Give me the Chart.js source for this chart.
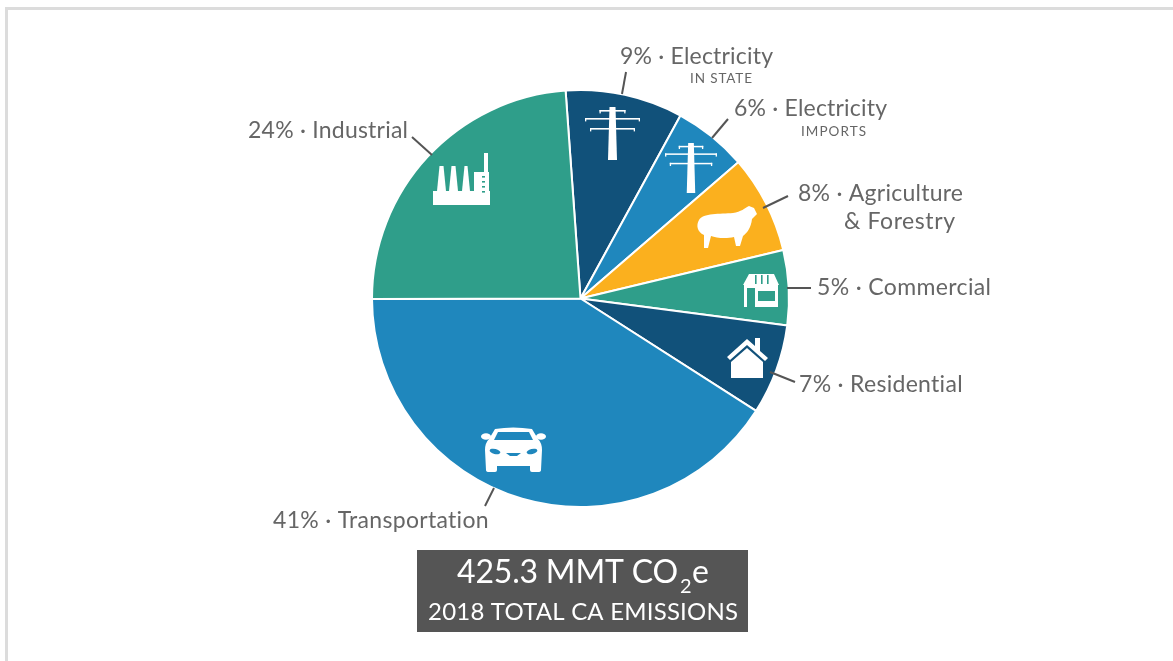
<!DOCTYPE html>
<html><head><meta charset="utf-8">
<script src="https://cdn.jsdelivr.net/npm/chart.js@4"></script>
<style>
html,body{margin:0;padding:0;background:#fff;width:1173px;height:661px;overflow:hidden}
#c{position:absolute;left:0;top:0}
#frame{position:absolute;left:5px;top:7px;width:1168px;height:654px;border-top:3px solid #dcdcdc;border-left:3px solid #dcdcdc;box-sizing:border-box}
</style></head><body>
<div id="frame"></div>
<canvas id="c" width="1173" height="661"></canvas>
<script>
const categories=["Electricity in state","Electricity imports","Agriculture & Forestry","Commercial","Residential","Transportation","Industrial"];
const shares=[9.1,5.7,7.6,5.8,7.0,40.9,23.9];
const sliceColors=["#11517a","#1f87bd","#fbb01e","#2f9e8a","#11517a","#1f87bd","#2f9e8a"];
const calloutLabels=[
 {t:"9% · Electricity",x:620,y:64,w:153},
 {t:"6% · Electricity",x:734,y:116,w:153},
 {t:"8% · Agriculture",x:798,y:201,w:165},
 {t:"& Forestry",x:844,y:229,w:111},
 {t:"5% · Commercial",x:817,y:295,w:174},
 {t:"7% · Residential",x:799,y:392,w:164},
 {t:"41% · Transportation",x:273,y:528,w:216},
 {t:"24% · Industrial",x:248,y:138,w:160}];
const subLabels=[{t:"IN STATE",x:690,y:83,w:62},{t:"IMPORTS",x:801,y:136,w:65}];
const leaders=[[626,72,622,94],[728,119,712,138],[788,196,763,208],[787,288,811,288],[770,372,795,382],[494,488,485,506],[412,137,432,155]];
const totalLine="425.3 MMT CO";
const totalSub="2";
const totalEnd="e";
const captionLine="2018 TOTAL CA EMISSIONS";
const FONT='Lato, "Open Sans", sans-serif';

function poly(c,p){c.beginPath();p.forEach((q,i)=>i?c.lineTo(q[0],q[1]):c.moveTo(q[0],q[1]));c.closePath();c.fill();}
function fitText(c,t,x,y,w){
  c.letterSpacing="0px";
  const m=c.measureText(t).width;
  c.letterSpacing=((w-m)/(t.length-1)).toFixed(3)+"px";
  c.fillText(t,x,y);
  c.letterSpacing="0px";
}
function pylon(c,x,top,h){
  const s=h/53;
  c.fillStyle="#fff";
  poly(c,[[x-3*s,top],[x+3*s,top],[x+4.5*s,top+h],[x-4.5*s,top+h]]);
  const arm=(dy,hw)=>{c.fillRect(x-hw*s,top+dy*s,2*hw*s,1.6*s);
    c.fillRect(x-hw*s,top+dy*s,1.3,3.4*s);c.fillRect(x+hw*s-1.3,top+dy*s,1.3,3.4*s);};
  arm(3,13);arm(11,27.5);arm(21,22.5);
}
function sheep(c){
  c.fillStyle="#fff";c.beginPath();
  c.moveTo(699,220);c.bezierCurveTo(703,213,720,214,733,213);
  c.bezierCurveTo(741,212,745,208,749,206);c.lineTo(754,208);c.lineTo(757,214);
  c.lineTo(752,219);c.bezierCurveTo(751,228,747,233,743,236);
  c.lineTo(740,246);c.lineTo(736,246);c.lineTo(734,237);
  c.bezierCurveTo(726,239,716,238,711,236);c.lineTo(708,248);c.lineTo(704,248);
  c.lineTo(704,235);c.bezierCurveTo(697,232,696,225,699,220);c.fill();
}
function car(c){
  const b="#1f87bd";c.fillStyle="#fff";
  c.beginPath();c.moveTo(495,429);c.quadraticCurveTo(513,426,532,429);c.lineTo(538,439);
  c.quadraticCurveTo(542,443,542,450);c.lineTo(541,470);c.quadraticCurveTo(541,472,538,472);c.lineTo(532,472);c.quadraticCurveTo(530,472,530,470);c.lineTo(530,466);c.lineTo(497,466);c.lineTo(497,470);c.quadraticCurveTo(497,472,495,472);c.lineTo(489,472);c.quadraticCurveTo(486,472,486,470);c.lineTo(485,450);c.quadraticCurveTo(485,443,489,439);c.closePath();c.fill();
  c.beginPath();c.ellipse(486,436.5,5,3.2,0,0,7);c.ellipse(541,436.5,5,3.2,0,0,7);c.fill();
  c.fillStyle=b;
  poly(c,[[498,432],[529,432],[533,440],[494,440]]);
  c.beginPath();c.ellipse(495,451.5,5.5,2.6,0.25,0,7);c.ellipse(532,451.5,5.5,2.6,-0.25,0,7);c.fill();
  poly(c,[[506,453],[521,453],[517,456],[510,456]]);
}
function factory(c){
  c.fillStyle="#fff";
  c.fillRect(433,191,57,14);
  [[438,445],[450,457],[463,469]].forEach(a=>{poly(c,[[a[0]+1.5,166],[a[1]-1.5,166],[a[1]+1,191],[a[0]-1,191]]);});
  c.fillRect(474,172,15,33);
  c.fillRect(484,153,4,20);
  c.fillStyle="#2f9e8a";
  [176,181,186,191].forEach(y=>c.fillRect(482,y,3,1.6));
}
function store(c){
  c.fillStyle="#fff";
  c.beginPath();c.moveTo(749,274);c.lineTo(774,274);c.lineTo(779,285);c.lineTo(743,285);c.closePath();c.fill();
  c.fillRect(744,285,3,22);
  c.fillRect(755,288,23,19);
  c.fillRect(744,285,34,3);
  c.fillStyle="#2f9e8a";
  [755,761,767].forEach(x=>c.fillRect(x,275,1.6,9));
  c.fillRect(758,291,17,10);
}
function house(c){
  c.fillStyle="#fff";
  poly(c,[[727,357],[747,339],[755,346],[755,338],[760,338],[760,351],[768,358],[765,361],[747,345],[730,360]]);
  poly(c,[[731,362],[747,348],[763,362],[763,378],[731,378]]);
}

const overlay={id:"overlay",afterDatasetsDraw(ch){
  const c=ch.ctx;c.save();
  pylon(c,612.5,107,53);pylon(c,691,143,50);
  sheep(c);car(c);factory(c);store(c);house(c);
  c.strokeStyle="#555";c.lineWidth=2;c.lineCap="butt";
  leaders.forEach(l=>{c.beginPath();c.moveTo(l[0],l[1]);c.lineTo(l[2],l[3]);c.stroke();});
  c.textBaseline="alphabetic";c.textAlign="left";c.fillStyle="#666";
  c.font="23px "+FONT;
  calloutLabels.forEach(l=>fitText(c,l.t,l.x,l.y,l.w));
  c.font="13.5px "+FONT;
  subLabels.forEach(l=>fitText(c,l.t,l.x,l.y,l.w));
  c.fillStyle="#555";c.fillRect(417,550,331,82);
  c.fillStyle="#fff";c.font="32px "+FONT;
  fitText(c,totalLine,457,583,221);
  c.font="20px "+FONT;c.fillText(totalSub,680,593);
  c.font="32px "+FONT;c.fillText(totalEnd,692,583);
  c.font="24px "+FONT;fitText(c,captionLine,428,620,310);
  c.restore();
}};
new Chart(document.getElementById("c"),{
  type:"pie",
  data:{labels:categories,datasets:[{data:shares,backgroundColor:sliceColors,borderColor:"#fff",borderWidth:2}]},
  options:{responsive:false,animation:false,rotation:-4.1,
    layout:{padding:{left:371,right:383,top:89,bottom:153}},
    plugins:{legend:{display:false},tooltip:{enabled:false},title:{display:false}}},
  plugins:[overlay]
});
</script>
</body></html>
